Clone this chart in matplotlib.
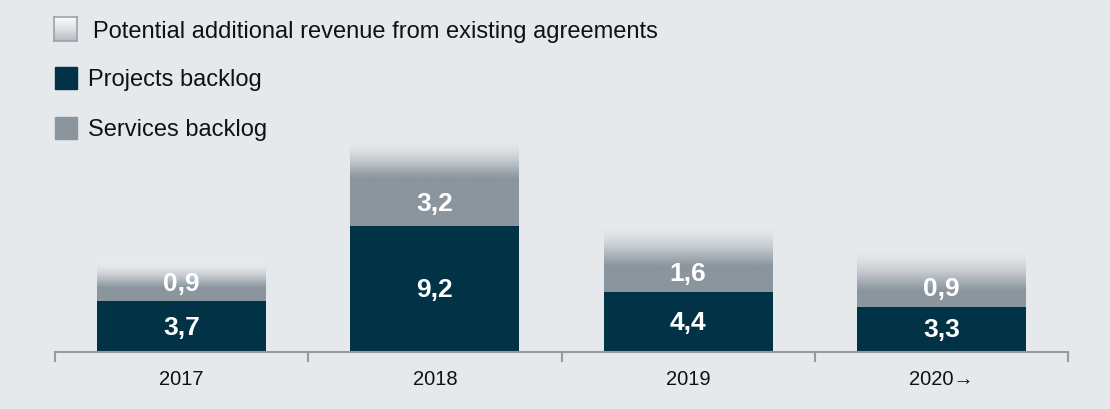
import numpy as np
import matplotlib
matplotlib.use("Agg")
import matplotlib.pyplot as plt
from matplotlib.colors import LinearSegmentedColormap
from matplotlib.patches import Rectangle

# ---- data ----
years = ["2017", "2018", "2019", "2020\u2192"]
projects = [3.7, 9.2, 4.4, 3.3]
services = [0.9, 3.2, 1.6, 0.9]
potential = [1.8, 3.0, 3.1, 3.2]  # unlabelled
proj_labels = ["3,7", "9,2", "4,4", "3,3"]
serv_labels = ["0,9", "3,2", "1,6", "0,9"]
legend_labels = ["Potential additional revenue from existing agreements",
                 "Projects backlog", "Services backlog"]

# ---- style ----
BG = "#e6e9ec"
C_PROJ = "#023246"
C_SERV = "#8a959e"
TOP_LIGHT = "#e8eaec"
plt.rcParams['font.family'] = ['Liberation Sans', 'DejaVu Sans']

fig = plt.figure(figsize=(11.1, 4.1), dpi=100)
fig.patch.set_facecolor(BG)

W, H = 1110, 410
ax = fig.add_axes([55 / W, (H - 353) / H, 1013 / W, 353 / H])
ax.set_facecolor(BG)
ax.set_xlim(-0.5, 3.5)
ax.set_ylim(0, 353 / 13.75)

x = np.arange(len(years))
bw = 0.667
ax.bar(x, projects, width=bw, color=C_PROJ, zorder=2)
ax.bar(x, services, width=bw, bottom=projects, color=C_SERV, zorder=2)

# gradient for potential revenue
grad_cmap = LinearSegmentedColormap.from_list(
    "g", [(0.0, C_SERV), (0.15, C_SERV), (0.55, "#c4cacf"), (0.8, "#dfe2e5"), (1.0, TOP_LIGHT)])
g = np.linspace(0, 1, 256).reshape(-1, 1)
for xi, p, s, pt in zip(x, projects, services, potential):
    base = p + s
    ax.imshow(g, cmap=grad_cmap, origin="lower", aspect="auto",
              extent=[xi - bw / 2, xi + bw / 2, base - 0.25, base + pt],
              interpolation="bilinear", zorder=1)

for xi, p, s, pl, sl in zip(x, projects, services, proj_labels, serv_labels):
    ax.text(xi, p / 2, pl, ha="center", va="center", color="white",
            fontsize=19, fontweight="bold", zorder=3)
    ax.text(xi, p + max(s / 2, 1.35), sl, ha="center", va="center", color="white",
            fontsize=19, fontweight="bold", zorder=3)

for sp in ["top", "right", "left"]:
    ax.spines[sp].set_visible(False)
ax.spines["bottom"].set_color("#9a9a9a")
ax.spines["bottom"].set_linewidth(1.5)
ax.set_yticks([])
ax.set_xticks(x)
ax.set_xticklabels(years, fontsize=14.5, color="#111111")
ax.tick_params(axis="x", which="major", length=0, pad=12)
ax.set_xticks(np.arange(-0.5, 4.0, 1.0), minor=True)
ax.tick_params(axis="x", which="minor", length=7, width=1.5, color="#9a9a9a")

# ---- legend (manual) ----
lg = fig.add_axes([54 / W, (H - 42) / H, 23 / W, 24 / H])
lg.imshow(np.linspace(0, 1, 64).reshape(-1, 1),
          cmap=LinearSegmentedColormap.from_list("l", ["#fdfdfd", "#dfe2e5", "#b5bcc2"]),
          aspect="auto", extent=[0, 1, 0, 1])
lg.set_xticks([]); lg.set_yticks([])
for sp in lg.spines.values():
    sp.set_color("#9aa3aa"); sp.set_linewidth(1.2)

fig.patches.append(Rectangle((55 / W, (H - 90) / H), 22 / W, 22 / H,
                             transform=fig.transFigure, color=C_PROJ))
fig.patches.append(Rectangle((55 / W, (H - 140) / H), 22 / W, 22 / H,
                             transform=fig.transFigure, color=C_SERV))
fig.text(93 / W, (H - 32) / H, legend_labels[0], fontsize=17, va="center", color="#111111")
fig.text(88 / W, (H - 80) / H, legend_labels[1], fontsize=17, va="center", color="#111111")
fig.text(88 / W, (H - 130) / H, legend_labels[2], fontsize=17, va="center", color="#111111")

fig.savefig("out.png", dpi=100, facecolor=BG)
